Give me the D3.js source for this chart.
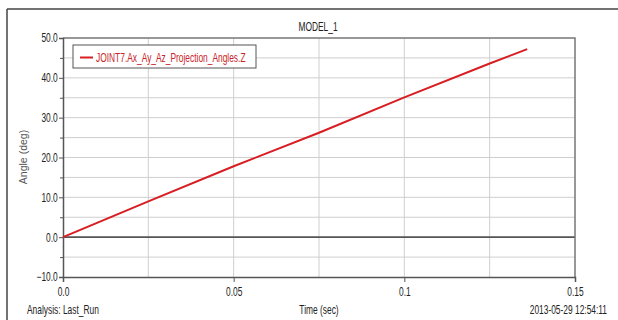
<!DOCTYPE html>
<html>
<head>
<meta charset="utf-8">
<script src="https://cdn.jsdelivr.net/npm/d3@7"></script>
<style>
  body { margin: 0; background: #fff; }
  text { font-family: "Liberation Sans", Arial, sans-serif; }
</style>
</head>
<body>
<div id="container"></div>
<script>
let w = 618;
let h = 320;

// data
let timeValues = [0, 0.025, 0.05, 0.075, 0.1, 0.125, 0.136];
let angleValues = [0, 9.0, 17.8, 26.2, 35.1, 43.6, 47.2];
let xTicks = [0, 0.05, 0.1, 0.15];
let xTickLabels = ["0.0", "0.05", "0.1", "0.15"];
let yTicks = [-10, 0, 10, 20, 30, 40, 50];
let seriesName = "JOINT7.Ax_Ay_Az_Projection_Angles.Z";

let squeeze = 0.7; // the original font is a narrow one

let viz = d3.select("#container")
  .append("svg")
    .attr("width", w)
    .attr("height", h)
    .style("display", "block");

function narrowText(parent, x, y, str, anchor, color){
  return parent.append("text")
    .attr("transform", "translate(" + x + "," + y + ") scale(" + squeeze + ",1)")
    .attr("text-anchor", anchor)
    .attr("font-size", 12)
    .attr("fill", color)
    .text(str);
}

// outer frame
viz.append("line").attr("x1", 7).attr("x2", w).attr("y1", 9).attr("y2", 9)
  .attr("stroke", "#444").attr("stroke-width", 1.5);
viz.append("line").attr("x1", 7).attr("x2", 7).attr("y1", 9).attr("y2", h)
  .attr("stroke", "#444").attr("stroke-width", 1.5);

let plotLeft = 63, plotRight = 575, plotTop = 38, plotBottom = 277;

let xScale = d3.scaleLinear().domain([0, 0.15]).range([plotLeft, plotRight]);
let yScale = d3.scaleLinear().domain([-10, 50]).range([plotBottom, plotTop]);

// grid
let grid = viz.append("g").attr("class", "grid");
grid.selectAll(".vgrid").data(d3.range(0.025, 0.15, 0.025)).enter()
  .append("line")
    .attr("x1", d => xScale(d)).attr("x2", d => xScale(d))
    .attr("y1", plotTop).attr("y2", plotBottom)
    .attr("stroke", "#cfcfcf").attr("stroke-width", 1);
grid.selectAll(".hgrid").data(d3.range(-5, 50, 5)).enter()
  .append("line")
    .attr("x1", plotLeft).attr("x2", plotRight)
    .attr("y1", d => yScale(d)).attr("y2", d => yScale(d))
    .attr("stroke", d => d == 0 ? "#555" : "#cfcfcf")
    .attr("stroke-width", d => d == 0 ? 1.6 : 1);

// plot border top/right
viz.append("path")
  .attr("d", "M" + plotLeft + "," + plotTop + "H" + plotRight + "V" + plotBottom)
  .attr("fill", "none").attr("stroke", "#777").attr("stroke-width", 1.5);

// x axis
let xAxis = d3.axisBottom(xScale).tickValues(xTicks)
  .tickFormat((d, i) => xTickLabels[i]).tickSize(5).tickPadding(5);
let xAxisGroup = viz.append("g").attr("class", "xaxis")
  .attr("transform", "translate(0," + plotBottom + ")").call(xAxis);
xAxisGroup.selectAll("path.domain").attr("stroke", "#555").attr("stroke-width", 1.5);
xAxisGroup.selectAll(".tick line").attr("stroke", "#555");
xAxisGroup.selectAll("text")
  .attr("font-size", 12).attr("fill", "#222")
  .attr("transform", "scale(" + squeeze + ",1)");

// y axis major + minor ticks
let yMinor = d3.axisLeft(yScale).tickValues(d3.range(-5, 50, 10)).tickSize(3).tickFormat("");
viz.append("g").attr("transform", "translate(" + plotLeft + ",0)").call(yMinor)
  .call(g => g.select(".domain").remove())
  .selectAll(".tick line").attr("stroke", "#555");

let yAxis = d3.axisLeft(yScale).tickValues(yTicks).tickFormat(d3.format(".1f")).tickSize(4);
let yAxisGroup = viz.append("g").attr("class", "yaxis")
  .attr("transform", "translate(" + plotLeft + ",0)").call(yAxis);
yAxisGroup.selectAll("path.domain").attr("stroke", "#555").attr("stroke-width", 1.5);
yAxisGroup.selectAll(".tick line").attr("stroke", "#555");
yAxisGroup.selectAll("text")
  .attr("font-size", 12).attr("fill", "#222")
  .attr("x", -7.5)
  .attr("transform", "scale(" + squeeze + ",1)");

// the curve
let points = timeValues.map((t, i) => [t, angleValues[i]]);
let line = d3.line().x(d => xScale(d[0])).y(d => yScale(d[1]));
viz.append("path").datum(points)
  .attr("d", line)
  .attr("fill", "none")
  .attr("stroke", "#d81e22")
  .attr("stroke-width", 2);

// legend
let legend = viz.append("g").attr("transform", "translate(73,45)");
legend.append("rect").attr("width", 183).attr("height", 23)
  .attr("fill", "#fff").attr("stroke", "#555").attr("stroke-width", 1);
legend.append("line").attr("x1", 7).attr("x2", 20).attr("y1", 12.5).attr("y2", 12.5)
  .attr("stroke", "#d81e22").attr("stroke-width", 2);
narrowText(legend, 23, 16.5, seriesName, "start", "#c8242a");

// titles
narrowText(viz, 318, 31, "MODEL_1", "middle", "#222");
narrowText(viz, 27, 314, "Analysis:  Last_Run", "start", "#222");
narrowText(viz, 319, 314, "Time (sec)", "middle", "#222");
narrowText(viz, 607, 314, "2013-05-29 12:54:11", "end", "#222");

viz.append("text")
  .attr("transform", "translate(27,157) rotate(-90)")
  .attr("text-anchor", "middle")
  .attr("font-size", 10.5).attr("fill", "#555")
  .text("Angle (deg)");
</script>
</body>
</html>
